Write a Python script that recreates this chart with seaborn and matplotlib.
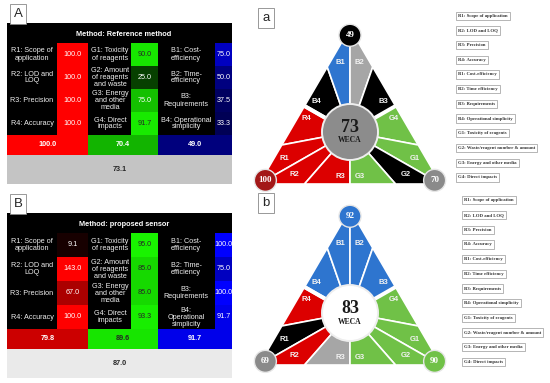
import numpy as np
import matplotlib
matplotlib.use("Agg")
import matplotlib.pyplot as plt
from matplotlib.colors import LinearSegmentedColormap, ListedColormap, BoundaryNorm
from matplotlib.patches import Polygon, Circle
import seaborn as sns

# values
r_labels = ["R1: Scope of\napplication", "R2: LOD and\nLOQ", "R3: Precision", "R4: Accuracy"]
g_labels = ["G1: Toxicity\nof reagents", "G2: Amount\nof reagents\nand waste",
            "G3: Energy\nand other\nmedia", "G4: Direct\nimpacts"]
b_labels_ref = ["B1: Cost-\nefficiency", "B2: Time-\nefficiency", "B3:\nRequirements",
                "B4: Operational\nsimplicity"]
b_labels_sen = ["B1: Cost-\nefficiency", "B2: Time-\nefficiency", "B3:\nRequirements",
                "B4:\nOperational\nsimplicity"]

ref_r = [100.0, 100.0, 100.0, 100.0]
ref_g = [90.0, 25.0, 75.0, 91.7]
ref_b = [75.0, 50.0, 37.5, 33.3]
ref_groups = [100.0, 70.4, 49.0]
ref_total = 73.1

sen_r = [9.1, 143.0, 67.0, 100.0]
sen_g = [95.0, 85.0, 85.0, 93.3]
sen_b = [100.0, 75.0, 100.0, 91.7]
sen_groups = [79.8, 89.6, 91.7]
sen_total = 87.0

# scores printed on the triangles: R, G, B corners and centre
ref_corner = [100, 70, 49]
ref_weca = 73
sen_corner = [69, 90, 92]
sen_weca = 83

legend_items = ["R1: Scope of application", "R2: LOD and LOQ", "R3: Precision", "R4: Accuracy",
                "B1: Cost-efficiency", "B2: Time efficiency", "B3: Requirements",
                "B4: Operational simplicity", "G1: Toxicity of reagents",
                "G2: Waste/reagent number & amount", "G3: Energy and other media",
                "G4: Direct impacts"]

sns.set_style("white")
plt.rcParams['font.family'] = ['Liberation Sans', 'DejaVu Sans']

W, H = 550, 383
fig = plt.figure(figsize=(5.5, 3.83), dpi=100)


def px_axes(x0, y0, x1, y1):
    return fig.add_axes([x0 / W, 1 - y1 / H, (x1 - x0) / W, (y1 - y0) / H])


red_cm = LinearSegmentedColormap.from_list("r", ["black", "#ff0000"])
green_cm = LinearSegmentedColormap.from_list("g", ["black", "#1aff00"])
blue_cm = LinearSegmentedColormap.from_list("b", ["black", "#0000ff"])
grey_cm = LinearSegmentedColormap.from_list("k", ["black", "white"])


def cell(x0, y0, x1, y1, vals, cmap, bold=False, vmax=100):
    ax = px_axes(x0, y0, x1, y1)
    sns.heatmap(np.array(vals).reshape(-1, 1), ax=ax, cmap=cmap, vmin=0, vmax=vmax,
                annot=True, fmt=".1f", cbar=False, xticklabels=False, yticklabels=False,
                annot_kws={"fontsize": 5.2, "fontweight": "bold" if bold else "normal"})


def table(top, row_h, letter, title, rv, gv, bv, groups, total, b_labels):
    body = top + 20
    summ = body + 4 * row_h
    bottom = summ + 20
    ax = px_axes(7, top, 232, bottom)
    ax.set_facecolor("black")
    ax.set_xlim(7, 232)
    ax.set_ylim(bottom, top)
    ax.set_xticks([])
    ax.set_yticks([])
    for s in ax.spines.values():
        s.set_visible(False)
    ax.text(124, top + 11, title, color="white", fontsize=5.3, fontweight="bold",
            ha="center", va="center")
    for i in range(4):
        yc = body + (i + 0.5) * row_h
        ax.text(32, yc, r_labels[i], color="#eeeeee", fontsize=5.2, ha="center", va="center",
                linespacing=1.0)
        ax.text(110, yc, g_labels[i], color="#eeeeee", fontsize=5.2, ha="center", va="center",
                linespacing=1.0)
        ax.text(186, yc, b_labels[i], color="#eeeeee", fontsize=5.2, ha="center", va="center",
                linespacing=1.0)
    cell(57, body, 88, summ, rv, red_cm)
    cell(131, body, 158, summ, gv, green_cm)
    cell(215, body, 232, summ, bv, blue_cm)
    cell(7, summ, 88, bottom, [groups[0]], red_cm, bold=True)
    cell(88, summ, 158, bottom, [groups[1]], green_cm, bold=True)
    cell(158, summ, 232, bottom, [groups[2]], blue_cm, bold=True)
    cell(7, bottom, 232, bottom + 29, [total], grey_cm, bold=True, vmax=95)
    fig.text(18 / W, 1 - (top - 9) / H, letter, fontsize=9.5, ha="center", va="center",
             bbox=dict(boxstyle="square,pad=0.3", fc="white", ec="#888888", lw=0.6))


table(23, 23, "A", "Method: Reference method", ref_r, ref_g, ref_b, ref_groups, ref_total,
      b_labels_ref)
table(213, 24, "B", "Method: proposed sensor", sen_r, sen_g, sen_b, sen_groups, sen_total,
      b_labels_sen)

# triangles
tax = px_axes(235, 0, 550, 383)
tax.set_xlim(235, 550)
tax.set_ylim(383, 0)
tax.axis("off")

bounds = BoundaryNorm([0, 50, 75, 1000], 3)
lobe_colors = {"R": "#dc0000", "G": "#70c147", "B": "#2e75cf"}
corner_colors = {"R": "#a31818", "G": "#70c147", "B": "#2e75cf"}
centre_cm = ListedColormap(["black", "#8c8c8c", "white"])


def lerp(p, q, t):
    return p + t * (q - p)


def triangle(dy, letter, rv, gv, bv, corner, weca, leg_x):
    top = np.array([350.0, 28 + dy])
    bl = np.array([259.0, 184 + dy])
    br = np.array([441.0, 184 + dy])
    c = (top + bl + br) / 3
    lobes = [("R", bl, top, br, rv, corner[0]),
             ("G", br, top, bl, gv, corner[1]),
             ("B", top, bl, br, bv, corner[2])]
    for name, v, a, b, vals, score in lobes:
        seg_cm = ListedColormap(["black", "#a6a6a6", lobe_colors[name]])
        m1, m2 = lerp(v, a, 0.5), lerp(v, b, 0.5)
        p1, p2 = lerp(v, a, 0.25), lerp(v, b, 0.25)
        segs = [[c, m1, p1], [c, p1, v], [c, v, p2], [c, p2, m2]]
        spots = [c + 0.85 * (0.75 * m1 + 0.25 * p1 - c), c + 0.82 * ((p1 + v) / 2 - c),
                 c + 0.82 * ((p2 + v) / 2 - c), c + 0.85 * (0.75 * m2 + 0.25 * p2 - c)]
        for k, idx in enumerate([3, 0, 1, 2]):
            tax.add_patch(Polygon(segs[k], closed=True, fc=seg_cm(bounds(vals[idx])),
                                  ec="white", lw=1.2))
            tax.text(spots[k][0], spots[k][1], f"{name}{idx + 1}", color="#f2f2f2",
                     fontsize=5.5, fontweight="bold", ha="center", va="center")
        tax.plot([c[0], m1[0]], [c[1], m1[1]], color="white", lw=2.8, solid_capstyle="butt")
        cc = lerp(v, c, 0.07)
        circ_cm = ListedColormap(["black", "#8a8a8a", corner_colors[name]])
        tax.add_patch(Circle(cc, 11, fc=circ_cm(bounds(score)), ec="#e6e6e6", lw=1.0, zorder=4))
        tax.text(cc[0], cc[1], str(score), color="white", fontsize=6.5, fontweight="bold",
                 family="Liberation Serif", ha="center", va="center", zorder=5)
    tax.add_patch(Circle(c, 28, fc=centre_cm(bounds(weca)), ec="#eeeeee", lw=1.4, zorder=4))
    tax.text(c[0], c[1] - 4.5, str(weca), fontsize=13, fontweight="bold", color="#1a1a1a",
             family="Liberation Serif", ha="center", va="center", zorder=5)
    tax.text(c[0], c[1] + 8.5, "WECA", fontsize=5.5, fontweight="bold", color="#1a1a1a",
             family="Liberation Serif", ha="center", va="center", zorder=5)
    tax.text(266, 18 + dy * 1.02, letter, fontsize=9.5, ha="center", va="center",
             bbox=dict(boxstyle="square,pad=0.3", fc="white", ec="#888888", lw=0.6))
    for i, item in enumerate(legend_items):
        tax.text(leg_x, 15.7 + dy * 1.02 + i * 14.7, item, fontsize=3.4, fontweight="bold",
                 family="Liberation Serif", color="#333333", ha="left", va="center",
                 bbox=dict(boxstyle="square,pad=0.45", fc="white", ec="#999999", lw=0.5))


triangle(0, "a", ref_r, ref_g, ref_b, ref_corner, ref_weca, 458)
triangle(181, "b", sen_r, sen_g, sen_b, sen_corner, sen_weca, 464)

fig.savefig("out.png", dpi=100)
